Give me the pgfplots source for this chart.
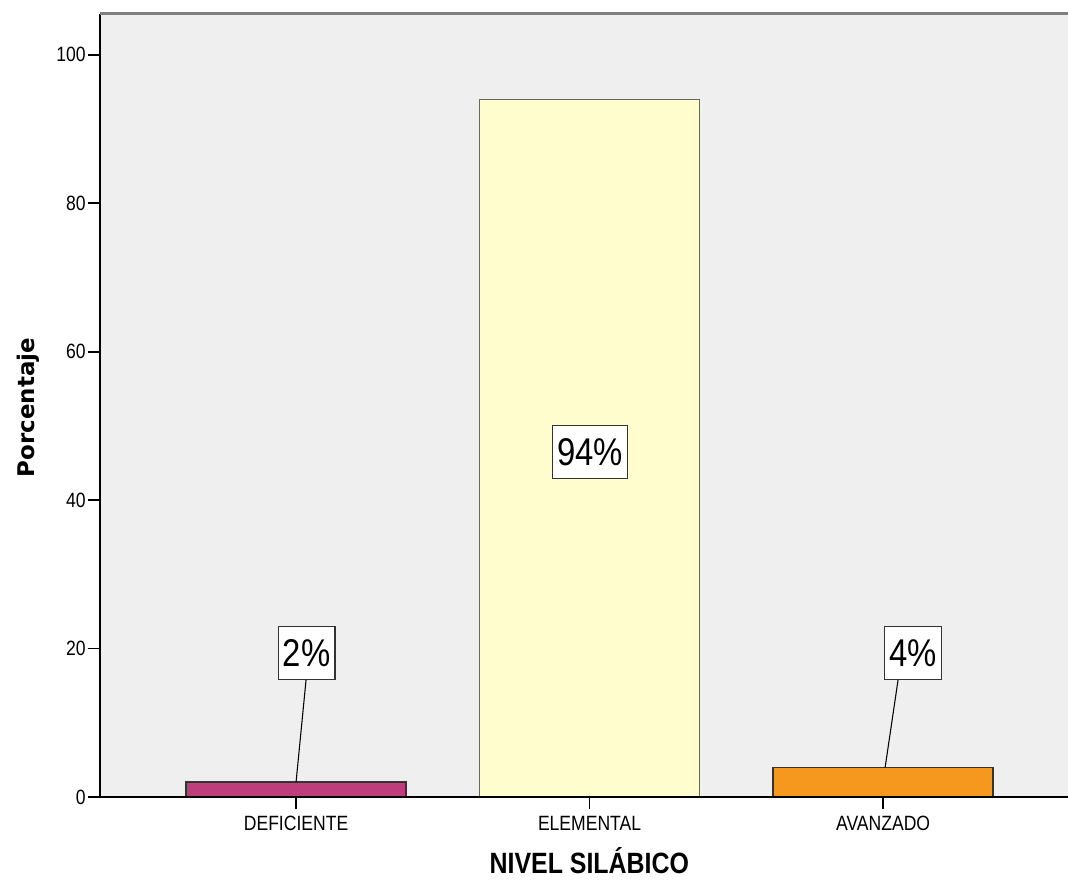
\documentclass[border=0pt]{standalone}
\usepackage{pgfplots}
\pgfplotsset{compat=1.18}
\usepackage{fontspec}
\setmainfont[FakeStretch=0.85]{Liberation Sans}
\newfontfamily\ylabfont{DejaVu Sans}
\definecolor{bg}{HTML}{EFEFEF}
\definecolor{mag}{HTML}{BE3D7B}
\definecolor{yel}{HTML}{FFFDCD}
\definecolor{org}{HTML}{F7981E}
\definecolor{edge}{HTML}{333333}
\begin{document}
\begin{tikzpicture}
\begin{axis}[
  name=ax,
  scale only axis,
  width=726pt, height=587.25pt,
  xmin=-0.668, xmax=2.630,
  ymin=0, ymax=105.5,
  axis background/.style={fill=bg},
  axis line style={draw=none},
  xtick={0,1,2},
  xticklabels={DEFICIENTE,ELEMENTAL,AVANZADO},
  ytick={0,20,40,60,80,100},
  xtick pos=left, ytick pos=left,
  tick align=outside,
  major tick length=9pt,
  every tick/.style={black, line width=1.3pt},
  /pgf/number format/assume math mode=true,
  yticklabel style={font=\fontsize{15.5}{18}\selectfont, inner sep=1.5pt},
  xticklabel style={font=\fontsize{15.5}{18}\selectfont, inner sep=5pt},
  clip=false,
]
\addplot[ybar, bar width=0.75, fill=mag, draw=edge, line width=1pt] coordinates {(0,2)};
\addplot[ybar, bar width=0.75, fill=yel, draw=black!60, line width=1.1pt] coordinates {(1,94)};
\addplot[ybar, bar width=0.75, fill=org, draw=edge, line width=1pt] coordinates {(2,4)};
% axis frame
\draw[black, line width=1.2pt] (rel axis cs:0,0) -- (rel axis cs:0,1);
\draw[black, line width=1pt] (rel axis cs:0,0) -- (rel axis cs:1,0);
\draw[black!50, line width=2.25pt] (rel axis cs:0,1) -- (rel axis cs:1,1);
% value labels
\draw[black, line width=0.8pt] (axis cs:0.034,15.77) -- (axis cs:0,2);
\draw[black, line width=0.8pt] (axis cs:2.051,15.77) -- (axis cs:2.007,4);
\node[anchor=south, draw=edge, fill=white, line width=0.9pt, inner xsep=3.5pt, inner ysep=0pt, minimum height=39.75pt, font=\fontsize{29}{30}\selectfont] at (axis cs:0.036,15.77) {2\%};
\node[anchor=south, draw=edge, fill=white, line width=0.9pt, inner xsep=3.5pt, inner ysep=0pt, minimum height=39.75pt, font=\fontsize{29}{30}\selectfont] at (axis cs:1.002,42.86) {94\%};
\node[anchor=south, draw=edge, fill=white, line width=0.9pt, inner xsep=3.5pt, inner ysep=0pt, minimum height=39.75pt, font=\fontsize{29}{30}\selectfont] at (axis cs:2.102,15.77) {4\%};
\end{axis}
\node[anchor=base, font=\fontsize{22}{26}\selectfont\bfseries] at ([xshift=4pt,yshift=-57.75pt]ax.south) {NIVEL SILÁBICO};
\node[rotate=90, anchor=base, font=\ylabfont\fontsize{17.2}{20}\selectfont\bfseries] at ([xshift=-48.75pt,yshift=-1.5pt]ax.west) {Porcentaje};
\pgfresetboundingbox
\path ([xshift=-75pt,yshift=-63pt]ax.south west) rectangle ([yshift=10.5pt]ax.north east);
\end{tikzpicture}
\end{document}
